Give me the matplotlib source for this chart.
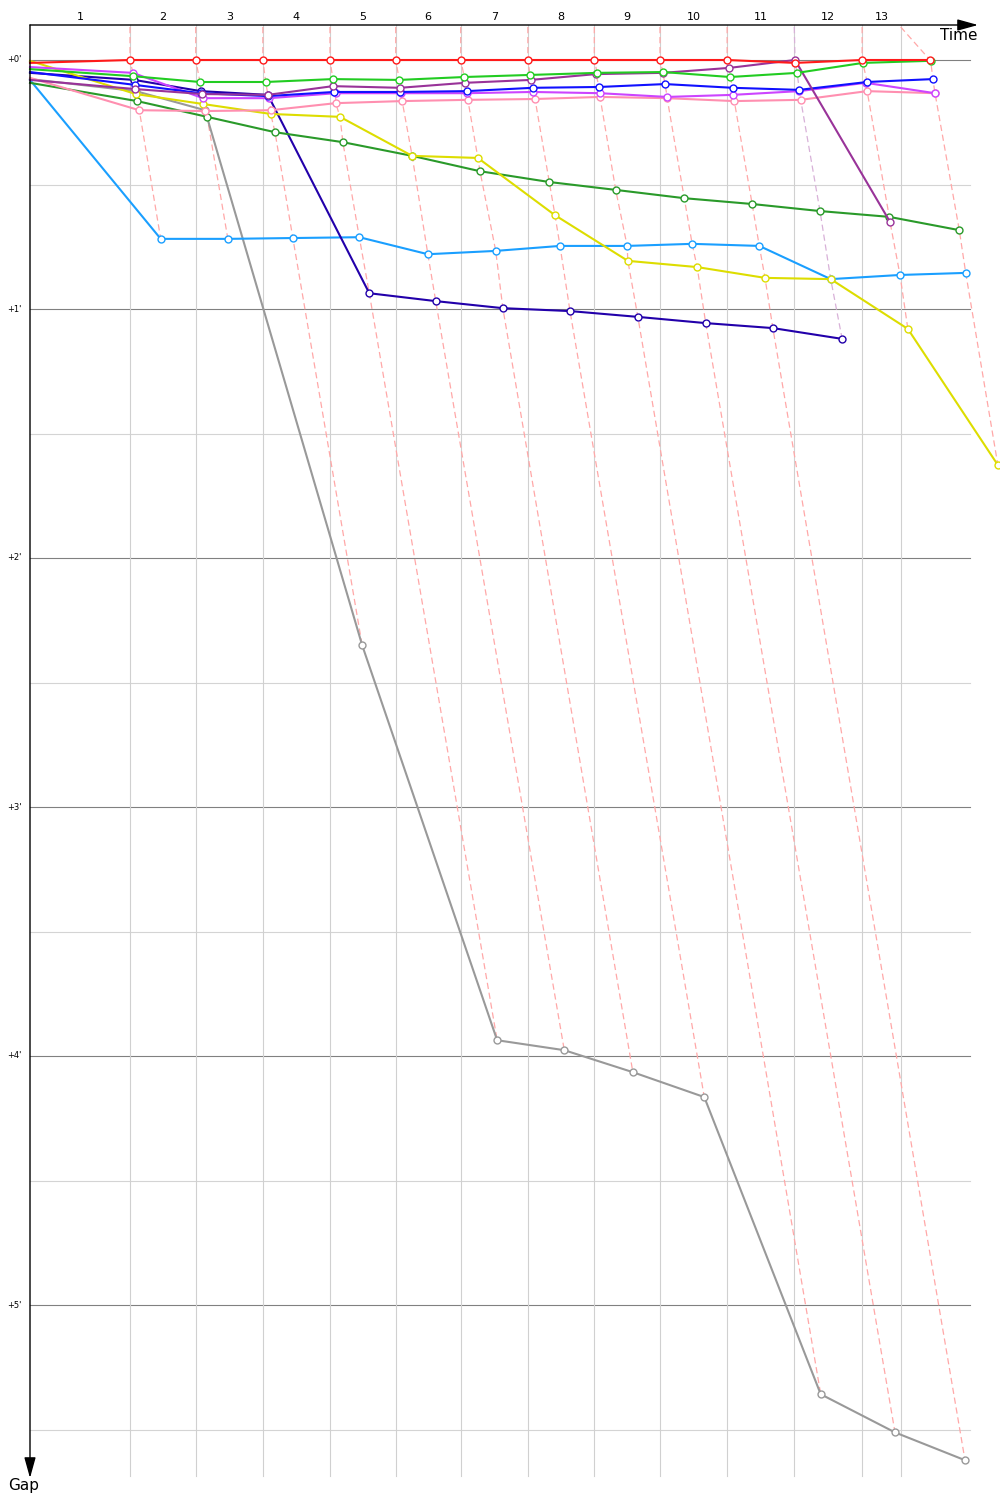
import matplotlib
matplotlib.use("Agg")
import matplotlib.pyplot as plt
from matplotlib.colors import to_rgb

# temps de course (s) du leader a chaque tour -> lignes verticales
lap_times = [140, 232, 326, 420, 512, 603, 697, 790, 882, 976, 1070, 1165, 1219]
lap_labels = ["1", "2", "3", "4", "5", "6", "7", "8", "9", "10", "11", "12", "13"]
gap_ticks = [0, 60, 120, 180, 240, 300]
gap_tick_labels = ["+0'", "+1'", "+2'", "+3'", "+4'", "+5'"]

# chaque pilote : temps de passage (s) et ecart au leader (s), depart inclus
red_t = [0, 140, 232, 326, 420, 512, 603, 697, 790, 882, 976, 1071, 1165, 1260]
red_gap = [0.7, 0, 0, 0, 0, 0, 0, 0, 0, 0, 0, 0.7, 0, 0]

green_t = [0, 144, 238, 330, 424, 517, 608, 700, 794, 886, 980, 1074, 1166, 1261]
green_gap = [2.2, 3.9, 5.3, 5.3, 4.6, 4.8, 4.1, 3.6, 3.1, 2.9, 4.1, 3.1, 0.7, 0.2]

purple_t = [0, 147, 241, 333, 424, 518, 609, 701, 792, 886, 979, 1071, 1204]
purple_gap = [4.8, 7.0, 8.2, 8.4, 6.3, 6.7, 5.5, 4.8, 3.4, 3.1, 1.9, 0, 39.0]

blue_t = [0, 147, 239, 333, 426, 518, 612, 704, 797, 889, 984, 1077, 1172, 1264]
blue_gap = [2.9, 6.0, 8.0, 8.7, 7.7, 7.7, 7.5, 6.7, 6.5, 5.8, 6.7, 7.2, 5.3, 4.6]

violet_t = [0, 144, 242, 335, 428, 519, 612, 704, 798, 892, 984, 1077, 1170, 1267]
violet_gap = [1.7, 3.1, 9.2, 9.2, 8.0, 8.0, 8.0, 7.7, 8.0, 8.9, 8.4, 7.5, 5.5, 8.0]

pink_t = [0, 153, 245, 337, 428, 521, 613, 707, 798, 892, 986, 1079, 1172, 1267]
pink_gap = [4.3, 12.1, 12.3, 12.1, 10.4, 9.9, 9.6, 9.4, 8.9, 9.2, 9.9, 9.6, 7.5, 8.0]

yellow_t = [0, 148, 242, 337, 434, 535, 627, 735, 837, 934, 1029, 1121, 1229, 1355]
yellow_gap = [0.2, 8.2, 10.6, 13.0, 13.7, 23.1, 23.6, 37.4, 48.4, 49.9, 52.5, 52.8, 64.8, 97.6]

dkgreen_t = [0, 150, 248, 343, 438, 535, 630, 727, 820, 916, 1011, 1106, 1203, 1301]
dkgreen_gap = [5.5, 9.9, 13.7, 17.4, 19.8, 23.1, 26.8, 29.4, 31.3, 33.3, 34.7, 36.4, 37.8, 41.0]

gray_t = [0, 148, 245, 465, 654, 748, 844, 944, 1107, 1211, 1309]
gray_gap = [4.6, 7.5, 12.1, 141.0, 236.2, 238.6, 243.9, 249.9, 321.5, 330.7, 337.4]

sky_t = [0, 183, 277, 368, 461, 557, 652, 742, 836, 927, 1021, 1121, 1218, 1310]
sky_gap = [4.8, 43.1, 43.1, 42.9, 42.7, 46.8, 46.0, 44.8, 44.8, 44.3, 44.8, 52.8, 51.8, 51.3]

navy_t = [0, 146, 239, 333, 475, 568, 662, 756, 851, 946, 1040, 1137]
navy_gap = [3.1, 4.8, 7.5, 8.4, 56.2, 58.1, 59.8, 60.5, 61.9, 63.4, 64.6, 67.2]

# ordre de trace : le premier est dessous
drivers = [
    (gray_t, gray_gap, "#999999"),
    (sky_t, sky_gap, "#1a9fff"),
    (navy_t, navy_gap, "#2200aa"),
    (dkgreen_t, dkgreen_gap, "#2a9a2a"),
    (yellow_t, yellow_gap, "#dddd00"),
    (pink_t, pink_gap, "#ff8fb0"),
    (violet_t, violet_gap, "#cc44ff"),
    (blue_t, blue_gap, "#1010ff"),
    (purple_t, purple_gap, "#993399"),
    (green_t, green_gap, "#22cc22"),
    (red_t, red_gap, "#ff1a1a"),
]

S_PER_PX = 1.4          # axe du temps
G_PER_PX = 60 / 249     # axe des ecarts
top_gap = -35 * G_PER_PX
bottom_gap = 1416 * G_PER_PX
grid_end = 940 * S_PER_PX


def lighten(c, f=0.62):
    r, g, b = to_rgb(c)
    return (r + (1 - r) * f, g + (1 - g) * f, b + (1 - b) * f)


fig = plt.figure(figsize=(10, 15), dpi=100)
ax = fig.add_axes([0, 0, 1, 1])
ax.set_xlim(-30 * S_PER_PX, 970 * S_PER_PX)
ax.set_ylim(1440 * G_PER_PX, -60 * G_PER_PX)
ax.axis("off")

# grille horizontale : minutes en gris fonce, demi-minutes en gris clair
g = 0
while g <= 330:
    col = "#808080" if g % 60 == 0 else "#d4d4d4"
    ax.plot([0, grid_end], [g, g], color=col, lw=0.8, zorder=1)
    g += 30

# grille verticale (tours du leader)
for lt in lap_times:
    ax.plot([lt, lt], [top_gap, bottom_gap], color="#d0d0d0", lw=0.8, zorder=1)

# lignes pointillees reliant les pilotes a chaque tour
for i, lt in enumerate(lap_times, start=1):
    pts = [(d[0][i], d[1][i], d[2]) for d in drivers if len(d[0]) > i]
    pts.sort(key=lambda p: p[1])
    xs = [lt] + [p[0] for p in pts]
    ys = [-33 * G_PER_PX] + [p[1] for p in pts]
    ax.plot(xs, ys, color=lighten(pts[0][2]), lw=0.9, ls=(0, (5, 3)), zorder=2)

# courbes des pilotes
for t, gap, col in drivers:
    ax.plot(t, gap, color=col, lw=1.5, marker="o", ms=5, mfc="white",
            mec=col, mew=1, markevery=list(range(1, len(t))), zorder=3)

# axes avec fleches
ax.annotate("", xy=(948 * S_PER_PX, top_gap), xytext=(0, top_gap),
            arrowprops=dict(arrowstyle="-|>,head_length=0.9,head_width=0.25",
                            color="black", lw=1, mutation_scale=14, shrinkA=0, shrinkB=0),
            zorder=5)
ax.annotate("", xy=(0, 1418 * G_PER_PX), xytext=(0, top_gap),
            arrowprops=dict(arrowstyle="-|>,head_length=0.9,head_width=0.25",
                            color="black", lw=1, mutation_scale=14, shrinkA=0, shrinkB=0),
            zorder=5)

ax.text(947 * S_PER_PX, -25 * G_PER_PX, "Time", fontsize=11, ha="right", va="center")
ax.text(-6 * S_PER_PX, 1425 * G_PER_PX, "Gap", fontsize=11, ha="center", va="center")

# etiquettes des tours, centrees entre deux passages du leader
prev = 0
for lt, lab in zip(lap_times, lap_labels):
    ax.text((prev + lt) / 2, -43 * G_PER_PX, lab, fontsize=8, ha="center", va="center")
    prev = lt

for gt, lab in zip(gap_ticks, gap_tick_labels):
    ax.text(-8 * S_PER_PX, gt, lab, fontsize=6, ha="right", va="center")

fig.savefig("out.png", dpi=100)
